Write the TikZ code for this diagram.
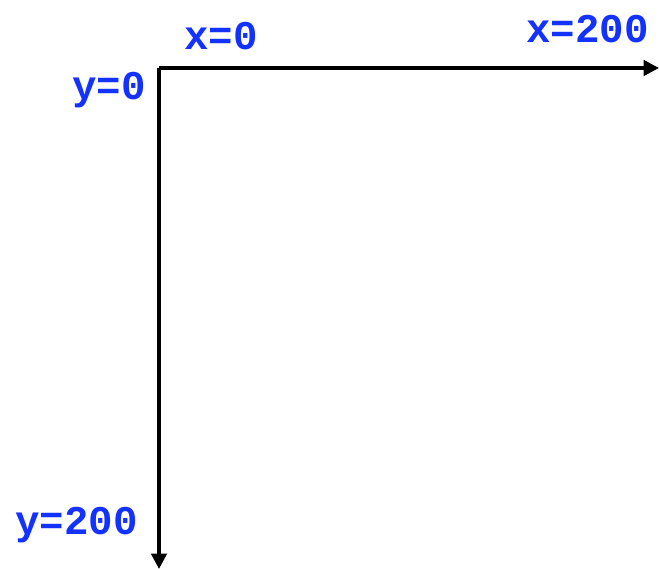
\documentclass[tikz,border=0pt]{standalone}
\usepackage{fontspec}
\usepackage{xcolor}
\usetikzlibrary{arrows.meta, positioning}
\newfontfamily\labelfont{Liberation Mono}
\definecolor{LabelBlue}{RGB}{20, 50, 255}

\begin{document}
\begin{tikzpicture}[x=0.025cm, y=-0.025cm,
    axis/.style={line width=2.5pt, -{Triangle[length=11pt, width=11pt]}},
    coordlabel/.style={inner sep=0pt, text=LabelBlue, font=\labelfont\bfseries\fontsize{29}{34}\selectfont}]
    \useasboundingbox (0,0) rectangle (659,569);
    % Ursprung und Achsenenden
    \coordinate (origin) at (159,68);
    \coordinate (xend) at (659,68);
    \coordinate (yend) at (159,569);
    \draw[axis] (origin) -- (xend);
    \draw[axis] (origin) -- (yend);

    % Beschriftungen
    \node[coordlabel, anchor=base west] (xzero) at (184,50) {x=0};
    \node[coordlabel, anchor=base east] (xmax) at (649,43) {x=200};
    \node[coordlabel, anchor=base east] (yzero) at (146,100) {y=0};
    \node[coordlabel, anchor=base east] (ymax) at (138,535) {y=200};
\end{tikzpicture}
\end{document}
